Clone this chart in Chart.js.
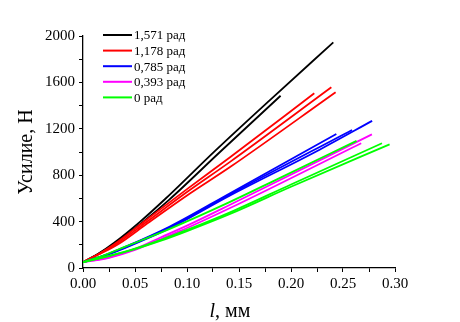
<!DOCTYPE html>
<html>
<head>
<meta charset="utf-8">
<script src="https://cdn.jsdelivr.net/npm/chart.js@4.4.0/dist/chart.umd.min.js"></script>
<style>
  html, body { margin: 0; padding: 0; background: #fff; }
</style>
</head>
<body>
<canvas id="chart" width="460" height="322"></canvas>
<script>
// ---------- DATA ----------
const SERIES_LABELS = ["1,571 рад", "1,178 рад", "0,785 рад", "0,393 рад", "0 рад"];
const SERIES_COLORS = ["#000000", "#ff0000", "#0000ff", "#ff00ff", "#00ff00"];

// each curve: [l (мм), усилие (Н)]
const black1 = [[0,50],[0.015,125],[0.03,218],[0.055,400],[0.079,595],[0.127,1010],[0.18,1450],[0.2407,1945]];
const black2 = [[0,50],[0.015,122],[0.03,210],[0.058,400],[0.083,590],[0.1317,1000],[0.19,1485]];
const red1 = [[0,50],[0.015,120],[0.03,205],[0.058,395],[0.1,680],[0.1414,955],[0.2224,1506]];
const red2 = [[0,50],[0.015,118],[0.031,200],[0.06,390],[0.1,655],[0.1414,915],[0.2388,1558]];
const red3 = [[0,50],[0.015,116],[0.033,200],[0.062,385],[0.1,625],[0.1414,870],[0.2429,1515]];
const blue1 = [[0,50],[0.02,108],[0.04,180],[0.084,360],[0.1414,645],[0.2436,1155]];
const blue2 = [[0,50],[0.02,106],[0.04,176],[0.084,352],[0.1414,635],[0.2587,1190]];
const blue3 = [[0,50],[0.02,104],[0.04,172],[0.084,345],[0.1414,625],[0.2275,1020],[0.278,1268]];
const magenta1 = [[0,50],[0.025,92],[0.05,165],[0.075,265],[0.1,365],[0.1414,545],[0.2778,1152]];
const magenta2 = [[0,50],[0.025,88],[0.05,155],[0.075,250],[0.1,345],[0.1414,517],[0.2675,1076]];
const green1 = [[0,50],[0.02,110],[0.04,182],[0.084,340],[0.1414,570],[0.186,762],[0.263,1096]];
const green2 = [[0,50],[0.025,105],[0.05,168],[0.075,243],[0.1,328],[0.1414,480],[0.2,720],[0.2875,1075]];
const green3 = [[0,50],[0.025,102],[0.05,162],[0.075,235],[0.1,318],[0.1414,466],[0.2,700],[0.2948,1066]];

// curve -> group (index into SERIES_*)
const curves = [
  [black1, 0], [black2, 0],
  [red1, 1], [red2, 1], [red3, 1],
  [blue1, 2], [blue2, 2], [blue3, 2],
  [magenta1, 3], [magenta2, 3],
  [green1, 4], [green2, 4], [green3, 4]
];

const FONT = "'Liberation Serif', 'Times New Roman', serif";

// ---------- LEGEND + X TITLE (drawn inside the plot) ----------
const extrasPlugin = {
  id: "extras",
  afterDraw(chart) {
    const { ctx, chartArea } = chart;
    ctx.save();
    ctx.font = "13px " + FONT;
    ctx.textBaseline = "middle";
    ctx.textAlign = "left";
    SERIES_LABELS.forEach((lab, i) => {
      const y = chartArea.top - 1 + i * 15.6;
      const x0 = chartArea.left + 20;
      ctx.strokeStyle = SERIES_COLORS[i];
      ctx.lineWidth = 2;
      ctx.beginPath(); ctx.moveTo(x0, y); ctx.lineTo(x0 + 29, y); ctx.stroke();
      ctx.fillStyle = "#000";
      ctx.fillText(lab, x0 + 31, y + 1);
    });

    // x title: italic l + ", мм"
    ctx.textBaseline = "alphabetic";
    ctx.font = "italic 20px " + FONT;
    const w1 = ctx.measureText("l").width;
    ctx.font = "20px " + FONT;
    const w2 = ctx.measureText(", мм").width;
    const cx = (chartArea.left + chartArea.right) / 2 - 9;
    const x = cx - (w1 + w2) / 2;
    ctx.font = "italic 20px " + FONT;
    ctx.fillText("l", x, 317);
    ctx.font = "20px " + FONT;
    ctx.fillText(", мм", x + w1, 317);
    ctx.restore();
  }
};

const datasets = curves.map(([pts, g]) => ({
  label: SERIES_LABELS[g],
  data: pts.map(p => ({ x: p[0], y: p[1] })),
  borderColor: SERIES_COLORS[g],
  backgroundColor: SERIES_COLORS[g],
  borderWidth: 1.8,
  showLine: true,
  pointRadius: 0,
  cubicInterpolationMode: "monotone",
  order: 4 - g
}));

const isMultiple = (v, step) => Math.abs(v / step - Math.round(v / step)) < 1e-6;

new Chart(document.getElementById("chart").getContext("2d"), {
  type: "scatter",
  data: { datasets },
  plugins: [extrasPlugin],
  options: {
    responsive: false,
    animation: false,
    layout: { padding: { top: 36, right: 65, bottom: 0, left: 0 } },
    plugins: { legend: { display: false }, tooltip: { enabled: false } },
    scales: {
      x: {
        type: "linear", min: 0, max: 0.3,
        afterFit: s => { s.height = 54; },
        grid: { drawOnChartArea: false, drawTicks: true, tickLength: 4, color: "#000" },
        border: { display: true, color: "#000", width: 1.3 },
        ticks: {
          stepSize: 0.025, autoSkip: false, maxRotation: 0, padding: 3,
          color: "#000", font: { family: FONT, size: 15 },
          callback: v => isMultiple(v, 0.05) ? v.toFixed(2) : ""
        }
      },
      y: {
        type: "linear", min: 0, max: 2000,
        afterFit: s => { s.width = 83; },
        grid: { drawOnChartArea: false, drawTicks: true, tickLength: 4, color: "#000" },
        border: { display: true, color: "#000", width: 1.3 },
        ticks: {
          stepSize: 200, autoSkip: false, padding: 4,
          color: "#000", font: { family: FONT, size: 15 },
          callback: v => isMultiple(v, 400) ? String(v) : ""
        },
        title: {
          display: true, text: "Усилие, Н", color: "#000",
          font: { family: FONT, size: 20 },
          padding: { top: 15, bottom: 0 }
        }
      }
    }
  }
});
</script>
</body>
</html>
